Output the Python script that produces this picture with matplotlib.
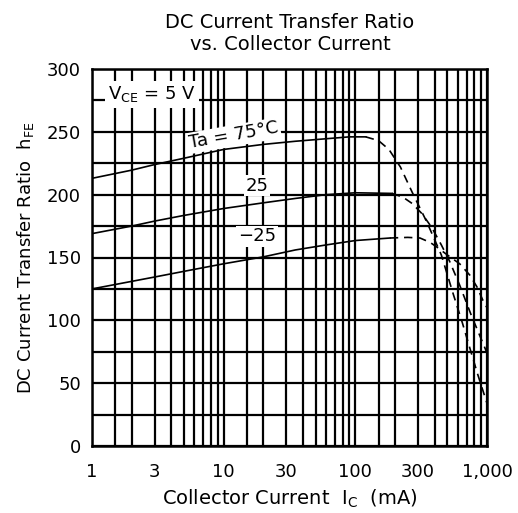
import matplotlib
matplotlib.use("Agg")
import matplotlib.pyplot as plt

# ---- data ----
ic_75_solid = [1, 2, 3, 5, 10, 20, 35, 60, 90, 120]
hfe_75_solid = [213, 219.5, 224, 229, 236, 240, 242.5, 244.5, 246, 246]
ic_75_dash = [120, 150, 180, 220, 270, 350, 450, 550, 650, 750, 850, 1000]
hfe_75_dash = [246, 243, 236, 222, 202, 178, 152, 122, 98, 76, 57, 34]

ic_25_solid = [1, 2, 3, 5, 10, 20, 35, 60, 100, 190]
hfe_25_solid = [169, 175, 179, 183.5, 189, 193.5, 197, 200, 201.5, 201]
ic_25_dash = [190, 230, 270, 320, 380, 450, 520, 620, 760, 880, 1000]
hfe_25_dash = [201, 198, 193, 185, 174, 160, 147, 128, 104, 88, 74]

ic_m25_solid = [1, 2, 3, 5, 10, 20, 35, 60, 100, 183]
hfe_m25_solid = [125, 131, 134.5, 139, 145, 150.5, 156, 160, 163.5, 165.5]
ic_m25_dash = [183, 250, 310, 370, 420, 500, 620, 740, 840, 930, 1000]
hfe_m25_dash = [165.5, 166, 165.5, 162, 158, 152, 145, 136, 126.5, 116, 110]

x_major = [1, 3, 10, 30, 100, 300, 1000]
x_major_labels = ["1", "3", "10", "30", "100", "300", "1,000"]
x_minor = [1.5, 2, 4, 5, 6, 7, 8, 9,
           15, 20, 40, 50, 60, 70, 80, 90,
           150, 200, 400, 500, 600, 700, 800, 900]
y_major = [0, 50, 100, 150, 200, 250, 300]
y_minor = [25, 75, 125, 175, 225, 275]

plt.rcParams['font.family'] = ['DejaVu Sans']
plt.rcParams['mathtext.default'] = 'regular'

fig = plt.figure(figsize=(5.18, 5.13), dpi=100)
ax = fig.add_axes([92/518, 1 - 446/513, 395/518, 377/513])

ax.set_xscale('log')
ax.set_xlim(1, 1000)
ax.set_ylim(0, 300)
ax.set_xticks(x_major)
ax.set_xticklabels(x_major_labels)
ax.set_xticks(x_minor, minor=True)
ax.set_xticklabels([], minor=True)
ax.set_yticks(y_major)
ax.set_yticks(y_minor, minor=True)
ax.tick_params(which='both', length=0, labelsize=13, colors='black')
ax.tick_params(axis='x', pad=12)
ax.tick_params(axis='y', pad=8)
ax.grid(which='both', color='black', linewidth=1.6)
ax.set_axisbelow(True)
for s in ax.spines.values():
    s.set_linewidth(1.8)

lw = 1.2
dash = (0, (5, 3.5))
ax.plot(ic_75_solid, hfe_75_solid, color='black', lw=lw, zorder=3)
ax.plot(ic_75_dash, hfe_75_dash, color='black', lw=lw, ls=dash, zorder=3)
ax.plot(ic_25_solid, hfe_25_solid, color='black', lw=lw, zorder=3)
ax.plot(ic_25_dash, hfe_25_dash, color='black', lw=lw, ls=dash, zorder=3)
ax.plot(ic_m25_solid, hfe_m25_solid, color='black', lw=lw, zorder=3)
ax.plot(ic_m25_dash, hfe_m25_dash, color='black', lw=lw, ls=dash, zorder=3)

wb = dict(facecolor='white', edgecolor='none', pad=1.2)
ax.text(2.86, 280, r'V$_{CE}$ = 5 V', fontsize=13, ha='center', va='center',
        bbox=dict(facecolor='white', edgecolor='none', pad=2.5), zorder=4)
ax.text(12.0, 247, 'Ta = 75°C', fontsize=13, ha='center', va='center',
        rotation=10, bbox=wb, zorder=4)
ax.text(17.9, 207, '25', fontsize=13, ha='center', va='center', bbox=wb, zorder=4)
ax.text(17.9, 167, '\u221225', fontsize=13, ha='center', va='center', bbox=wb, zorder=4)

ax.set_xlabel(r'Collector Current  I$_{C}$  (mA)', fontsize=14, labelpad=5)
ax.set_ylabel(r'DC Current Transfer Ratio  h$_{FE}$', fontsize=13, labelpad=8)
fig.text(0.56, 1 - 33/513, 'DC Current Transfer Ratio\nvs. Collector Current',
         ha='center', va='center', fontsize=14, linespacing=1.2)

fig.savefig('out.png', dpi=100)
